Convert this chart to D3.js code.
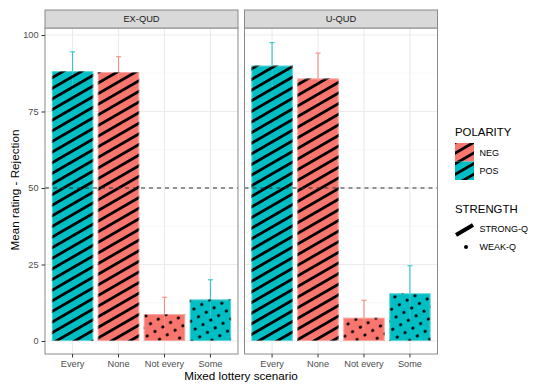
<!DOCTYPE html>
<html>
<head>
<meta charset="utf-8">
<script src="https://cdn.jsdelivr.net/npm/d3@7"></script>
<style>
  html, body { margin: 0; padding: 0; background: #ffffff; }
  svg { display: block; font-family: "Liberation Sans", Arial, sans-serif; }
</style>
</head>
<body>
<svg id="chart" width="539" height="386"></svg>
<script>
// ---- Data ----
const categories = ["Every", "None", "Not every", "Some"];
const panels = ["EX-QUD", "U-QUD"];
const polarityByCategory = ["POS", "NEG", "NEG", "POS"];
const strengthByCategory = ["STRONG-Q", "STRONG-Q", "WEAK-Q", "WEAK-Q"];
const exQudMeans = [88.2, 87.9, 8.8, 13.6];
const exQudErrors = [6.3, 5.0, 5.5, 6.4];
const uQudMeans = [90.0, 85.8, 7.6, 15.6];
const uQudErrors = [7.5, 8.3, 5.7, 9.0];
const yTicks = [0, 25, 50, 75, 100];
const yMinorTicks = [12.5, 37.5, 62.5, 87.5];
const referenceLine = 50;
const polarityLevels = ["NEG", "POS"];
const strengthLevels = ["STRONG-Q", "WEAK-Q"];

// ---- Setup ----
const svg = d3.select("#chart");
const colour = d3.scaleOrdinal().domain(polarityLevels).range(["#F8766D", "#00BFC4"]);
const errColour = d3.scaleOrdinal().domain(polarityLevels).range(["#F98B84", "#2EC7CC"]);

const panelTop = 28, panelBottom = 354, stripTop = 10;
const y = d3.scaleLinear().domain([0, 100]).range([341, 35]);
const panelRanges = [[45, 238], [244.5, 437.5]];
const panelData = [
  { name: panels[0], means: exQudMeans, errs: exQudErrors },
  { name: panels[1], means: uQudMeans, errs: uQudErrors }
];

// patterns
const defs = svg.append("defs");
const stripe = defs.append("pattern")
  .attr("id", "stripes").attr("patternUnits", "userSpaceOnUse")
  .attr("width", 10).attr("height", 9.2)
  .attr("patternTransform", "rotate(-30)");
stripe.append("rect").attr("x", 0).attr("y", 0).attr("width", 10).attr("height", 2.8).attr("fill", "#000");
const dots = defs.append("pattern")
  .attr("id", "dots").attr("patternUnits", "userSpaceOnUse")
  .attr("width", 9).attr("height", 9)
  .attr("patternTransform", "rotate(-30)");
dots.append("circle").attr("cx", 4.5).attr("cy", 4.5).attr("r", 1.6).attr("fill", "#000");
const patternFor = s => s === "STRONG-Q" ? "url(#stripes)" : "url(#dots)";

panelData.forEach((p, pi) => {
  const [x0, x1] = panelRanges[pi];
  const x = d3.scaleBand().domain(categories).range([x0, x1]).paddingInner(0.1).paddingOuter(0.15);
  const g = svg.append("g");

  g.append("rect").attr("x", x0).attr("y", panelTop).attr("width", x1 - x0).attr("height", panelBottom - panelTop).attr("fill", "#fff");
  g.selectAll(".ymin").data(yMinorTicks).join("line")
    .attr("x1", x0).attr("x2", x1).attr("y1", d => y(d)).attr("y2", d => y(d))
    .attr("stroke", "#f3f3f3").attr("stroke-width", 0.6);
  g.selectAll(".ymaj").data(yTicks).join("line")
    .attr("x1", x0).attr("x2", x1).attr("y1", d => y(d)).attr("y2", d => y(d))
    .attr("stroke", "#ebebeb").attr("stroke-width", 1.1);
  g.selectAll(".xmaj").data(categories).join("line")
    .attr("x1", d => x(d) + x.bandwidth() / 2).attr("x2", d => x(d) + x.bandwidth() / 2)
    .attr("y1", panelTop).attr("y2", panelBottom)
    .attr("stroke", "#ebebeb").attr("stroke-width", 1.1);

  const rows = categories.map((c, i) => ({
    cat: c, mean: p.means[i], err: p.errs[i],
    pol: polarityByCategory[i], str: strengthByCategory[i]
  }));

  g.selectAll(".bar").data(rows).join("rect")
    .attr("x", d => x(d.cat)).attr("width", x.bandwidth())
    .attr("y", d => y(d.mean)).attr("height", d => y(0) - y(d.mean))
    .attr("fill", d => colour(d.pol));
  const cx = d => x(d.cat) + x.bandwidth() / 2;
  g.selectAll(".err").data(rows).join("line")
    .attr("x1", cx).attr("x2", cx)
    .attr("y1", d => y(d.mean - d.err)).attr("y2", d => y(d.mean + d.err))
    .attr("stroke", d => errColour(d.pol)).attr("stroke-width", 1.1);
  g.selectAll(".cap").data(rows).join("line")
    .attr("x1", d => cx(d) - 2.5).attr("x2", d => cx(d) + 2.5)
    .attr("y1", d => y(d.mean + d.err)).attr("y2", d => y(d.mean + d.err))
    .attr("stroke", d => errColour(d.pol)).attr("stroke-width", 1.1);
  g.selectAll(".pat").data(rows).join("rect")
    .attr("x", d => x(d.cat)).attr("width", x.bandwidth())
    .attr("y", d => y(d.mean)).attr("height", d => y(0) - y(d.mean))
    .attr("fill", d => patternFor(d.str));
  g.selectAll(".outl").data(rows).join("rect")
    .attr("x", d => x(d.cat) + 0.5).attr("width", x.bandwidth() - 1)
    .attr("y", d => y(d.mean) + 0.5).attr("height", d => y(0) - y(d.mean) - 1)
    .attr("fill", "none").attr("stroke", "#ffffff").attr("stroke-opacity", 0.35).attr("stroke-width", 1);

  g.append("line").attr("x1", x0).attr("x2", x1)
    .attr("y1", y(referenceLine)).attr("y2", y(referenceLine))
    .attr("stroke", "#333").attr("stroke-width", 1.1).attr("stroke-dasharray", "4,4");

  g.append("rect").attr("x", x0).attr("y", panelTop).attr("width", x1 - x0).attr("height", panelBottom - panelTop)
    .attr("fill", "none").attr("stroke", "#8a8a8a").attr("stroke-width", 1);
  g.append("rect").attr("x", x0).attr("y", stripTop).attr("width", x1 - x0).attr("height", panelTop - stripTop)
    .attr("fill", "#d9d9d9").attr("stroke", "#8a8a8a").attr("stroke-width", 1);
  g.append("text").attr("x", (x0 + x1) / 2).attr("y", (stripTop + panelTop) / 2 + 3.4)
    .attr("text-anchor", "middle").attr("font-size", 9.3).attr("fill", "#1a1a1a").text(p.name);

  const xa = svg.append("g").attr("transform", `translate(0,${panelBottom})`)
    .call(d3.axisBottom(x).tickSize(3.5).tickPadding(3));
  xa.select(".domain").remove();
  xa.selectAll(".tick line").attr("stroke", "#333").attr("stroke-width", 1);
  xa.selectAll(".tick text").attr("font-size", 9.2).attr("fill", "#4d4d4d").attr("font-family", "Liberation Sans, Arial, sans-serif");

  if (pi === 0) {
    const ya = svg.append("g").attr("transform", `translate(${x0},0)`)
      .call(d3.axisLeft(y).tickValues(yTicks).tickSize(3.5).tickPadding(3));
    ya.select(".domain").remove();
    ya.selectAll(".tick line").attr("stroke", "#333").attr("stroke-width", 1);
    ya.selectAll(".tick text").attr("font-size", 9.2).attr("fill", "#4d4d4d").attr("font-family", "Liberation Sans, Arial, sans-serif");
  }
});

svg.append("text").attr("x", 241).attr("y", 380).attr("text-anchor", "middle")
  .attr("font-size", 11.7).attr("fill", "#000").text("Mixed lottery scenario");
svg.append("text").attr("transform", "translate(19,190) rotate(-90)").attr("text-anchor", "middle")
  .attr("font-size", 11.7).attr("fill", "#000").text("Mean rating - Rejection");

const lg = svg.append("g");
lg.append("text").attr("x", 455).attr("y", 136).attr("font-size", 11.4).text("POLARITY");
polarityLevels.forEach((lv, i) => {
  const ky = 143 + i * 18.5;
  lg.append("rect").attr("x", 455).attr("y", ky).attr("width", 19).attr("height", 18.5).attr("fill", colour(lv));
  lg.append("rect").attr("x", 455).attr("y", ky).attr("width", 19).attr("height", 18.5).attr("fill", "url(#stripes)");
  lg.append("text").attr("x", 479.5).attr("y", ky + 12.5).attr("font-size", 9).text(lv);
});
lg.append("text").attr("x", 455).attr("y", 213).attr("font-size", 11.4).text("STRENGTH");
strengthLevels.forEach((lv, i) => {
  const ky = 220 + i * 18;
  if (lv === "STRONG-Q") {
    lg.append("line").attr("x1", 456).attr("y1", ky + 15).attr("x2", 473).attr("y2", ky + 5)
      .attr("stroke", "#000").attr("stroke-width", 4);
  } else {
    lg.append("circle").attr("cx", 466).attr("cy", ky + 9).attr("r", 2).attr("fill", "#000");
  }
  lg.append("text").attr("x", 479.5).attr("y", ky + 12).attr("font-size", 9).text(lv);
});
</script>
</body>
</html>
